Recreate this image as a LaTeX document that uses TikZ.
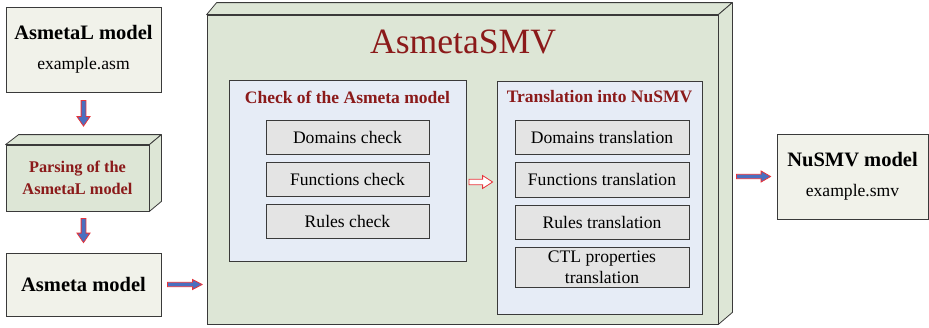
\documentclass[tikz,border=0pt]{standalone}
\usepackage{fontspec}
\setmainfont{Liberation Serif}
\usetikzlibrary{calc}
\definecolor{bordercol}{HTML}{3A3A3A}
\definecolor{lightfill}{HTML}{F1F2EA}
\definecolor{greenfill}{HTML}{DDE6D6}
\definecolor{bluefill}{HTML}{E6ECF6}
\definecolor{grayfill}{HTML}{E4E4E4}
\definecolor{darkred}{HTML}{8B1A1A}
\definecolor{arrblue}{HTML}{4A6FC0}
\definecolor{arrred}{HTML}{E8333A}
\tikzset{
  faw/.store in=\fahw, fhh/.store in=\fahh, fhl/.store in=\fahl,
  fss/.store in=\fast, fse/.store in=\faen,
  faw=2.4pt, fhh=6.5pt, fhl=9.5pt, fss=6pt, fse=6pt,
  arrowlook/.style={draw=arrred, fill=arrblue, line width=0.8pt, line join=miter},
  fatarrow/.style={arrowlook, to path={
    let \p1=($(\tikztostart)!\fast!(\tikztotarget)$),
        \p2=($(\tikztotarget)!\faen!(\tikztostart)$),
        \n1={atan2(\y2-\y1,\x2-\x1)},
        \n2={veclen(\x2-\x1,\y2-\y1)} in
    {[shift={(\p1)}, rotate=\n1]
      (0pt,-\fahw) -- (\n2*1pt-\fahl,-\fahw) -- (\n2*1pt-\fahl,-\fahh) -- (\n2*1pt,0pt)
      -- (\n2*1pt-\fahl,\fahh) -- (\n2*1pt-\fahl,\fahw) -- (0pt,\fahw) -- cycle}}},
  boxbase/.style={draw=bordercol, line width=0.8pt, inner sep=0pt, align=center},
  lightbox/.style={boxbase, fill=lightfill},
  greenbox/.style={boxbase, fill=greenfill},
  bluebox/.style={boxbase, fill=bluefill},
  graybox/.style={boxbase, fill=grayfill, font=\fontsize{17.6}{21}\selectfont},
  facestyle/.style={draw=bordercol, line width=0.8pt, fill=greenfill, line join=round},
  titlestyle/.style={text=darkred, font=\bfseries\fontsize{17.5}{21}\selectfont, inner sep=0pt},
}
\begin{document}
\begin{tikzpicture}[x=1pt,y=-1pt]
\useasboundingbox (0,0) rectangle (929,327);
\fill[white] (0,0) rectangle (929,327);

% left column
\node[lightbox, minimum width=155pt, minimum height=85pt, font=\fontsize{17.6}{22}\selectfont] (aL) at (83.5,49.5)
  {{\bfseries\fontsize{20.5}{24}\selectfont AsmetaL model}\\[8pt]example.asm};

\node[greenbox, minimum width=143pt, minimum height=66pt] (prs) at (77.5,178) {};
\draw[facestyle] (prs.north west) -- ++(13pt,10pt) -- ([shift={(12pt,10pt)}]prs.north east) -- (prs.north east) -- cycle;
\draw[facestyle] (prs.north east) -- ++(12pt,10pt) -- ([shift={(12pt,10pt)}]prs.south east) -- (prs.south east) -- cycle;
\node[text=darkred, font=\bfseries\fontsize{16.3}{22}\selectfont, align=center, inner sep=0pt] (prstext) at (prs.center) {Parsing of the\\AsmetaL model};

\node[lightbox, minimum width=155pt, minimum height=63pt, font=\bfseries\fontsize{20.5}{24}\selectfont] (asm) at (83.5,284.5) {Asmeta model};

% AsmetaSMV big box
\node[greenbox, minimum width=511pt, minimum height=309pt] (smv) at (462.5,169.5) {};
\draw[facestyle] (smv.north west) -- ++(10pt,12pt) -- ([shift={(14pt,12pt)}]smv.north east) -- (smv.north east) -- cycle;
\draw[facestyle] (smv.north east) -- ++(14pt,12pt) -- ([shift={(14pt,12pt)}]smv.south east) -- (smv.south east) -- cycle;
\coordinate (smvR) at ([xshift=14pt]smv.east);
\node[text=darkred, font=\fontsize{35.6}{40}\selectfont, inner sep=0pt] (ttl) at (463,42) {AsmetaSMV};

% check box
\node[bluebox, minimum width=237pt, minimum height=181pt] (chk) at (347.5,170.5) {};
\node[titlestyle] (chkt) at (347.5,97) {Check of the Asmeta model};
\node[graybox, minimum width=163pt, minimum height=34pt] (c1) at (347.5,137) {Domains check};
\node[graybox, minimum width=163pt, minimum height=34pt] (c2) at (347.5,179) {Functions check};
\node[graybox, minimum width=163pt, minimum height=34pt] (c3) at (347.5,221) {Rules check};

% translation box
\node[bluebox, minimum width=205pt, minimum height=233pt] (trn) at (599.5,197.5) {};
\node[titlestyle] (trnt) at (599.5,97) {Translation into NuSMV};
\node[graybox, minimum width=174pt, minimum height=34pt] (t1) at (602,137) {Domains translation};
\node[graybox, minimum width=174pt, minimum height=35pt] (t2) at (602,179.5) {Functions translation};
\node[graybox, minimum width=174pt, minimum height=34pt] (t3) at (602,222) {Rules translation};
\node[graybox, minimum width=174pt, minimum height=40pt] (t4) at (602,267) {CTL properties\\translation};

% NuSMV model
\node[lightbox, minimum width=151pt, minimum height=85pt, font=\fontsize{17.6}{22}\selectfont] (nus) at (852.5,176.5)
  {{\bfseries\fontsize{20.5}{24}\selectfont NuSMV model}\\[8pt]example.smv};

% arrows
\draw[fatarrow, fss=8pt, fse=18.5pt] (aL.south) to (aL.south |- prs.north);
\draw[fatarrow, fss=7pt, fse=10pt] (prs.south -| asm.north) to (asm.north);
\draw[fatarrow, faw=2.2pt, fhh=5pt, fss=6pt, fse=4.5pt] (asm.east) to (asm.east -| smv.west);
\draw[fatarrow, fill=white, faw=2.8pt, fhh=6.5pt, fhl=10pt, fss=2.5pt, fse=4pt] ([yshift=-11.5pt]chk.east) to ([yshift=-11.5pt]chk.east -| trn.west);
\draw[fatarrow, faw=2.2pt, fhh=5.5pt, fss=4pt, fse=6pt] (nus.west -| smvR) to (nus.west);
\end{tikzpicture}
\end{document}
